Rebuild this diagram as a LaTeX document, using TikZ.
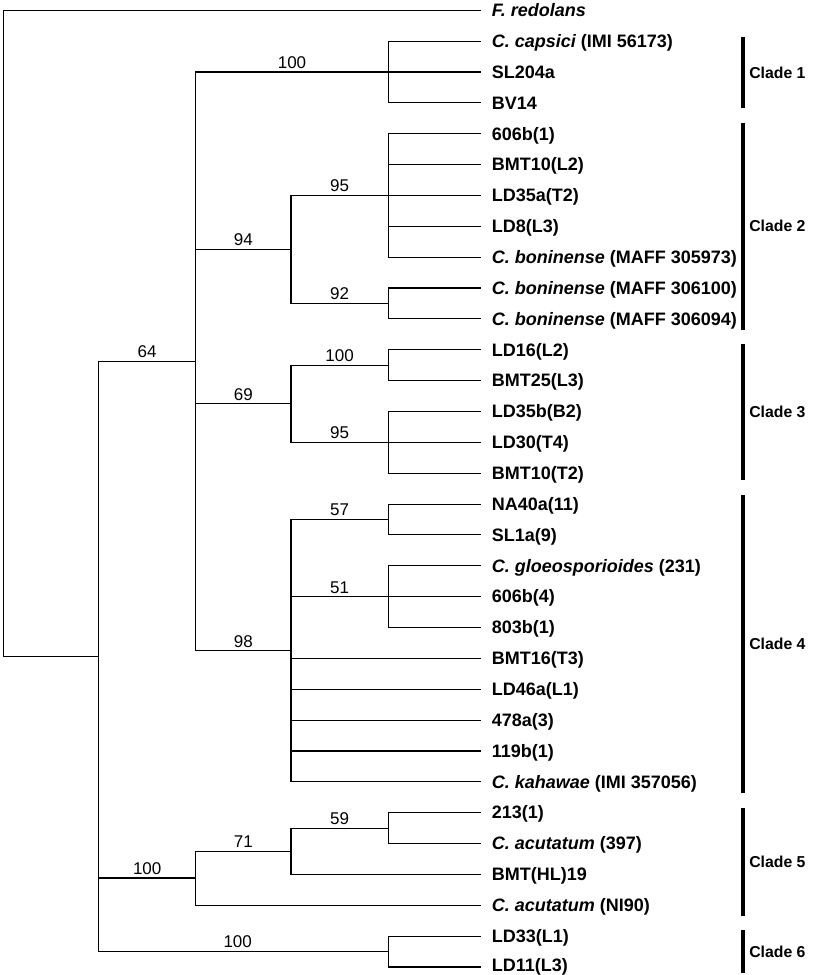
\documentclass[tikz,border=0pt]{standalone}
\usepackage{fontspec}
\newfontfamily\lf{Liberation Sans}
\newfontfamily\cf{Liberation Sans}
\begin{document}
\begin{tikzpicture}[x=1pt,y=-1pt,
  br/.style={line width=1.1pt, black},
  brthick/.style={line width=2.4pt, black},
  sv/.style={pos=0.75, anchor=base, yshift=3.6pt, inner sep=0, font=\lf\fontsize{17}{19}\selectfont},
  leaf/.style={anchor=base west, xshift=10.7pt, yshift=-6.3pt, inner sep=0, font=\lf\bfseries\fontsize{18}{20}\selectfont},
  cladebar/.style={line width=3.2pt, black},
  clade/.style={midway, anchor=west, xshift=4.7pt, inner sep=0, font=\cf\bfseries\fontsize{15.8}{18}\selectfont}]
\useasboundingbox[fill=white] (0,0) rectangle (812,975);
% leaf tips
\foreach \i in {0,...,31} \coordinate (t\i) at (481, 10.3+30.86*\i);
% internal nodes
\coordinate (R) at (3.5, 333.37);
\coordinate (I) at (98.7, 656.43);
\coordinate (A) at (195.7, 361.33);
\coordinate (c1) at (388.3, 72.02);
\coordinate (c2) at (291, 249.465);
\coordinate (n95a) at (388.3, 195.46);
\coordinate (n92) at (388.3, 303.47);
\coordinate (c3) at (291, 403.765);
\coordinate (n100b) at (388.3, 365.19);
\coordinate (n95b) at (388.3, 442.34);
\coordinate (c4) at (291, 650.645);
\coordinate (n57) at (388.3, 519.49);
\coordinate (n51) at (388.3, 596.64);
\coordinate (c5) at (195.7, 878.24);
\coordinate (n71) at (291, 851.235);
\coordinate (n59) at (388.3, 828.09);
\coordinate (c6) at (388.3, 951.53);
% root
\draw[br] (R) |- (t0);
\draw[br] (R) |- (I);
% ingroup
\draw[br] (I) |- (A) node[sv]{64};
\draw[br] (I) |- (c5);
\draw[brthick] (I |- c5) -- (c5) node[sv, midway]{100};
\draw[br] (I) |- (c6) node[sv, pos=0.74]{100};
% clades 1-4
\draw[br] (A) |- (c1) node[sv]{100};
\draw[br] (A) |- (c2) node[sv]{94};
\draw[br] (A) |- (c3) node[sv]{69};
\draw[br] (A) |- (c4) node[sv]{98};
\foreach \i in {1,2,3} \draw[br] (c1) |- (t\i);
\draw[br] (c2) |- (n95a) node[sv]{95};
\draw[br] (c2) |- (n92) node[sv]{92};
\foreach \i in {4,...,8} \draw[br] (n95a) |- (t\i);
\foreach \i in {9,10} \draw[br] (n92) |- (t\i);
\draw[br] (c3) |- (n100b) node[sv]{100};
\draw[br] (c3) |- (n95b) node[sv]{95};
\foreach \i in {11,12} \draw[br] (n100b) |- (t\i);
\foreach \i in {13,14,15} \draw[br] (n95b) |- (t\i);
\draw[br] (c4) |- (n57) node[sv]{57};
\draw[br] (c4) |- (n51) node[sv]{51};
\foreach \i in {21,...,25} \draw[br] (c4) |- (t\i);
\foreach \i in {16,17} \draw[br] (n57) |- (t\i);
\foreach \i in {18,19,20} \draw[br] (n51) |- (t\i);
% clade 5
\draw[br] (c5) |- (n71) node[sv]{71};
\draw[br] (c5) |- (t29);
\draw[br] (n71) |- (n59) node[sv]{59};
\draw[br] (n71) |- (t28);
\foreach \i in {26,27} \draw[br] (n59) |- (t\i);
% clade 6
\foreach \i in {30,31} \draw[br] (c6) |- (t\i);
% leaf labels
\node[leaf] (L0) at (t0) {\itshape F. redolans};
\node[leaf] (L1) at (t1) {{\itshape C. capsici} (IMI 56173)};
\node[leaf] (L2) at (t2) {SL204a};
\node[leaf] (L3) at (t3) {BV14};
\node[leaf] (L4) at (t4) {606b(1)};
\node[leaf] (L5) at (t5) {BMT10(L2)};
\node[leaf] (L6) at (t6) {LD35a(T2)};
\node[leaf] (L7) at (t7) {LD8(L3)};
\node[leaf] (L8) at (t8) {{\itshape C. boninense} (MAFF 305973)};
\node[leaf] (L9) at (t9) {{\itshape C. boninense} (MAFF 306100)};
\node[leaf] (L10) at (t10) {{\itshape C. boninense} (MAFF 306094)};
\node[leaf] (L11) at (t11) {LD16(L2)};
\node[leaf] (L12) at (t12) {BMT25(L3)};
\node[leaf] (L13) at (t13) {LD35b(B2)};
\node[leaf] (L14) at (t14) {LD30(T4)};
\node[leaf] (L15) at (t15) {BMT10(T2)};
\node[leaf] (L16) at (t16) {NA40a(11)};
\node[leaf] (L17) at (t17) {SL1a(9)};
\node[leaf] (L18) at (t18) {{\itshape C. gloeosporioides} (231)};
\node[leaf] (L19) at (t19) {606b(4)};
\node[leaf] (L20) at (t20) {803b(1)};
\node[leaf] (L21) at (t21) {BMT16(T3)};
\node[leaf] (L22) at (t22) {LD46a(L1)};
\node[leaf] (L23) at (t23) {478a(3)};
\node[leaf] (L24) at (t24) {119b(1)};
\node[leaf] (L25) at (t25) {{\itshape C. kahawae} (IMI 357056)};
\node[leaf] (L26) at (t26) {213(1)};
\node[leaf] (L27) at (t27) {{\itshape C. acutatum} (397)};
\node[leaf] (L28) at (t28) {BMT(HL)19};
\node[leaf] (L29) at (t29) {{\itshape C. acutatum} (NI90)};
\node[leaf] (L30) at (t30) {LD33(L1)};
\node[leaf, yshift=2.2pt] (L31) at (t31) {LD11(L3)};
% clade bars
\draw[cladebar] (743,37) -- node[clade]{Clade 1} (743,108);
\draw[cladebar] (743,122.5) -- node[clade]{Clade 2} (743,330);
\draw[cladebar] (743,344) -- node[clade]{Clade 3} (743,480);
\draw[cladebar] (743,495) -- node[clade]{Clade 4} (743,793);
\draw[cladebar] (743,808) -- node[clade]{Clade 5} (743,916);
\draw[cladebar] (743,930) -- node[clade]{Clade 6} (743,973);
\end{tikzpicture}
\end{document}
